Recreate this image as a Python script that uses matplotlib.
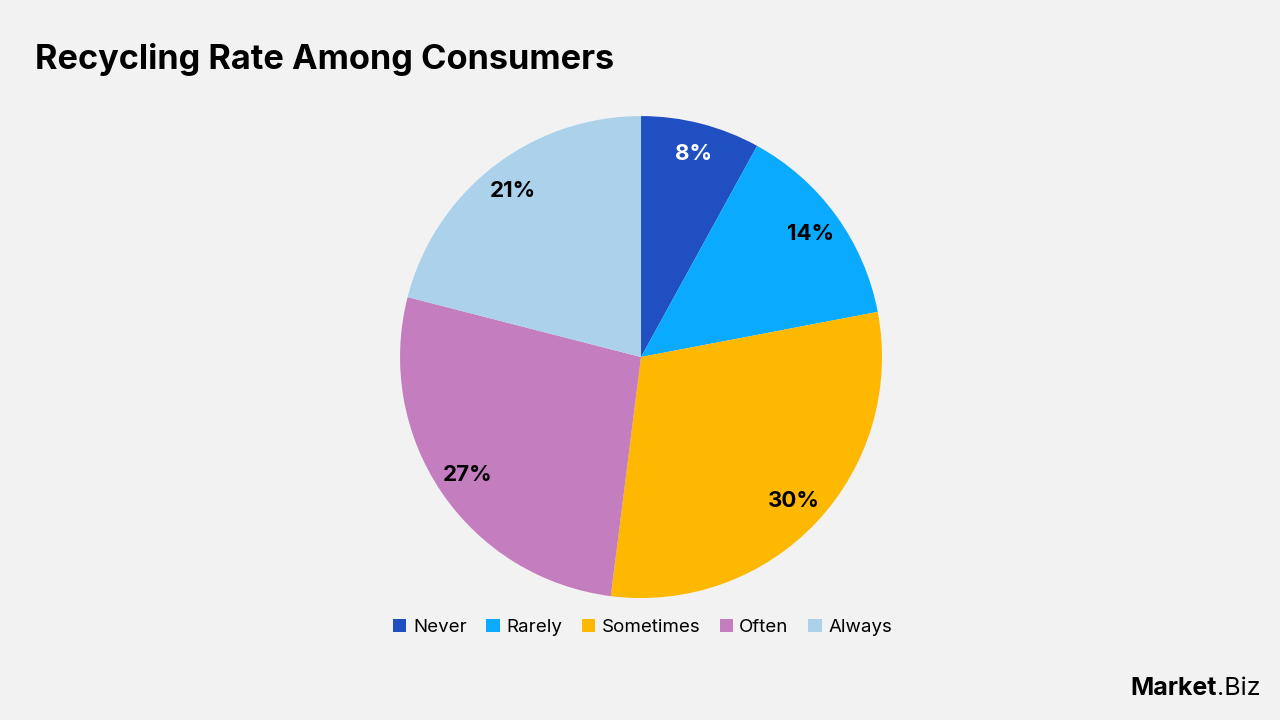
import matplotlib.pyplot as plt
from matplotlib.patches import Patch

categories = ["Never", "Rarely", "Sometimes", "Often", "Always"]
shares = [8, 14, 30, 27, 21]
colors = ["#1F4FC1", "#0AAAFF", "#FFB800", "#C47EBF", "#ABD1EB"]
label_colors = ["white", "black", "black", "black", "black"]

plt.rcParams['font.family'] = ['Inter', 'DejaVu Sans']
bg = "#F2F2F2"

fig = plt.figure(figsize=(12.8, 7.2), dpi=100, facecolor=bg)
ax = fig.add_axes([0.3125, 0.1694, 0.3766, 0.6694])
ax.set_facecolor(bg)

wedges, texts, autotexts = ax.pie(
    shares, colors=colors, startangle=90, counterclock=False,
    autopct=lambda p: f"{p:.0f}%", pctdistance=0.87,
    wedgeprops=dict(linewidth=0),
    textprops=dict(fontsize=16, fontweight="bold"))
for t, c in zip(autotexts, label_colors):
    t.set_color(c)
ax.set_xlim(-1, 1)
ax.set_ylim(-1, 1)
ax.set_aspect("equal")

fig.text(0.027, 0.918, "Recycling Rate Among Consumers", fontsize=24.7,
         fontweight="bold", ha="left", va="center")

handles = [Patch(facecolor=c, label=n) for c, n in zip(colors, categories)]
fig.legend(handles=handles, loc="center", bbox_to_anchor=(0.502, 0.128),
           ncol=5, frameon=False, fontsize=13.5, handlelength=0.7,
           handleheight=0.7, handletextpad=0.35, columnspacing=1.05)

# logo
logo = fig.text(0.883, 0.035, "Market", fontsize=18, fontweight="bold",
                ha="left", va="baseline")
fig.canvas.draw()
bb = logo.get_window_extent()
fig.text(bb.x1 / fig.bbox.width, 0.035, ".Biz", fontsize=18,
         ha="left", va="baseline")

fig.savefig("out.png", dpi=100, facecolor=bg)
